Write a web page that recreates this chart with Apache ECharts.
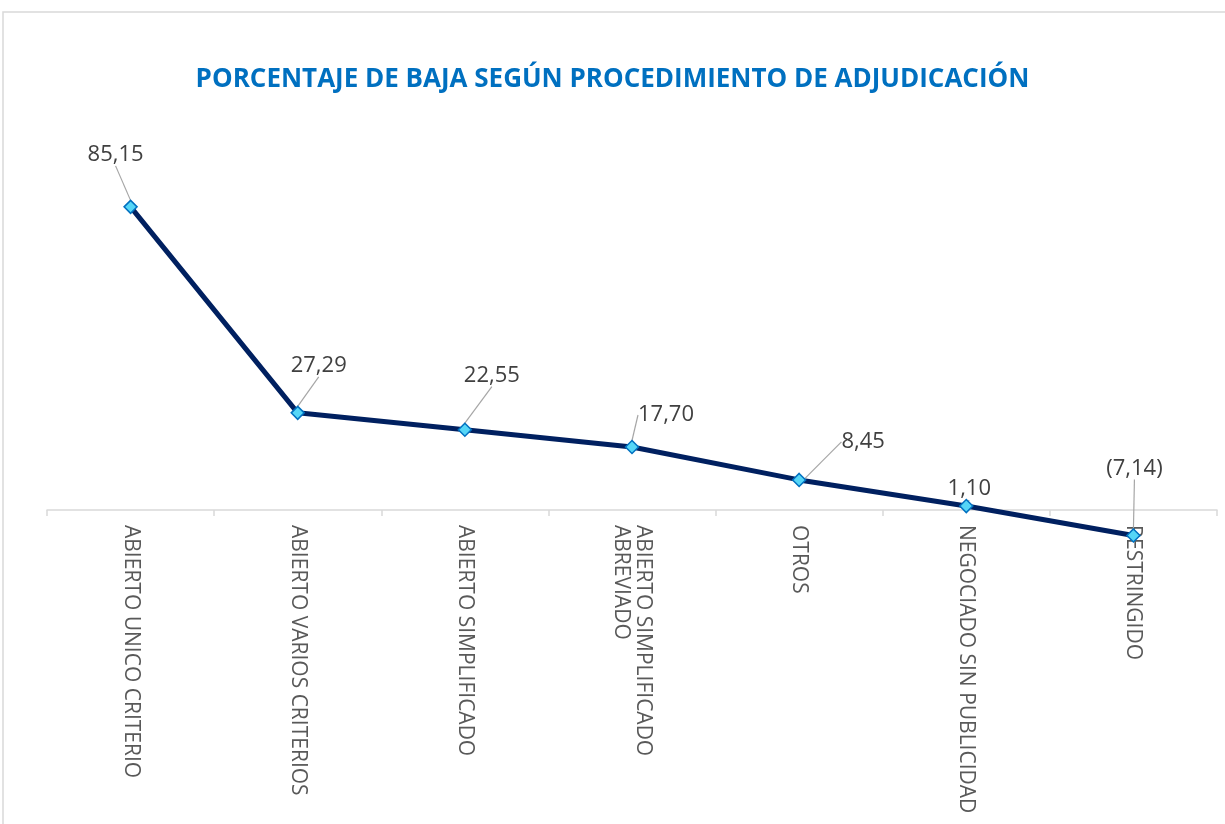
<!DOCTYPE html>
<html>
<head>
<meta charset="utf-8">
<script src="https://cdn.jsdelivr.net/npm/echarts@6/dist/echarts.min.js"></script>
<style>
  html, body { margin: 0; padding: 0; background: #fff; }
  #chart { width: 1225px; height: 824px; }
</style>
</head>
<body>
<div id="chart"></div>
<script>
// categorias y valores (porcentaje de baja)
const categorias = [
  'ABIERTO UNICO CRITERIO',
  'ABIERTO VARIOS CRITERIOS',
  'ABIERTO SIMPLIFICADO',
  'ABIERTO SIMPLIFICADO\nABREVIADO',
  'OTROS',
  'NEGOCIADO SIN PUBLICIDAD',
  'RESTRINGIDO'
];
const porcentajes = [85.15, 27.29, 22.55, 17.70, 8.45, 1.10, -7.14];

const titulo = 'PORCENTAJE DE BAJA SEGÚN PROCEDIMIENTO DE ADJUDICACIÓN';

// formato con coma decimal, negativos entre paréntesis
function fmt(v) {
  const s = Math.abs(v).toFixed(2).replace('.', ',');
  return v < 0 ? '(' + s + ')' : s;
}

const chart = echarts.init(document.getElementById('chart'));

// desplazamiento de cada etiqueta respecto a su punto
const desplaz = [[-15, -52], [21, -47], [27, -54], [34, -32], [64, -38], [3, -17], [1, -67]];

const option = {
  backgroundColor: '#ffffff',
  animation: false,
  title: {
    text: titulo,
    left: 'center',
    top: 62,
    textStyle: {
      color: '#0070c0',
      fontFamily: 'Open Sans',
      fontWeight: 'bold',
      fontSize: 26
    }
  },
  graphic: [{
    type: 'rect',
    shape: { x: 3, y: 12, width: 1230, height: 830 },
    style: { fill: 'none', stroke: '#d9d9d9', lineWidth: 1.5 },
    silent: true
  }],
  // el eje X queda en el borde inferior (valor 0); los negativos se dibujan debajo
  grid: { left: 47, right: 8, top: 154, height: 356 },
  xAxis: {
    type: 'category',
    data: categorias,
    boundaryGap: true,
    axisLine: { lineStyle: { color: '#d9d9d9', width: 1.5 } },
    axisTick: { show: true, length: 6, lineStyle: { color: '#d9d9d9', width: 1.5 } },
    axisLabel: {
      interval: 0,
      rotate: -90,
      margin: 15,
      color: '#595959',
      fontFamily: 'Open Sans',
      fontSize: 21,
      lineHeight: 22
    }
  },
  yAxis: {
    type: 'value',
    min: 0,
    max: 100,
    show: false,
    splitLine: { show: false }
  },
  series: [{
    type: 'line',
    data: porcentajes,
    clip: false,
    lineStyle: { color: '#002060', width: 5 },
    symbol: 'diamond',
    symbolSize: 13,
    itemStyle: { color: '#55d6f7', borderColor: '#0070c0', borderWidth: 1.5 },
    z: 3,
    label: {
      show: true,
      position: 'top',
      formatter: p => fmt(p.value),
      color: '#404040',
      fontFamily: 'Open Sans',
      fontSize: 22
    },
    labelLine: {
      show: true,
      lineStyle: { color: '#a6a6a6', width: 1.2 }
    },
    labelLayout: function (params) {
      const d = desplaz[params.dataIndex];
      const cx = params.rect.x + params.rect.width / 2;
      const cy = params.rect.y + params.rect.height / 2;
      return {
        x: cx + d[0],
        y: cy + d[1],
        align: 'center',
        verticalAlign: 'middle'
      };
    }
  }]
};

chart.setOption(option);
</script>
</body>
</html>
